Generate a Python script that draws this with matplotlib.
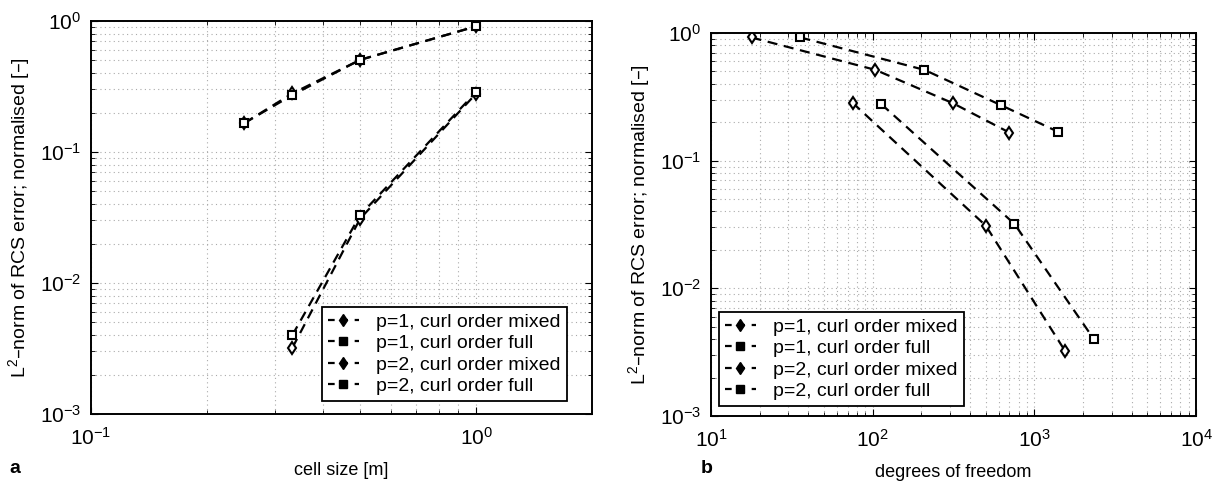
import numpy as np
import matplotlib
matplotlib.use("Agg")
import matplotlib.pyplot as plt
from matplotlib.lines import Line2D
from matplotlib.ticker import LogLocator, LogFormatterMathtext, NullFormatter

plt.rcParams["font.family"] = ["Liberation Sans", "DejaVu Sans"]
plt.rcParams["mathtext.default"] = "regular"

# --- data ---
# panel a: error vs cell size
h_p1 = [0.25, 1 / 3, 0.5, 1.0]
h_p2 = [1 / 3, 0.5, 1.0]
err_p1_mixed = [0.166, 0.280, 0.505, 0.910]
err_p1_full = [0.166, 0.272, 0.505, 0.910]
err_p2_mixed = [0.0032, 0.031, 0.279]
err_p2_full = [0.0040, 0.033, 0.287]

# panel b: error vs degrees of freedom
dof_p1_mixed = [17.8, 104, 313, 700]
dof_p1_full = [35.7, 209, 625, 1407]
dof_p2_mixed = [75, 500, 1548]
dof_p2_full = [113, 752, 2328]
errb_p1_mixed = [0.922, 0.514, 0.282, 0.166]
errb_p1_full = [0.922, 0.514, 0.271, 0.168]
errb_p2_mixed = [0.284, 0.031, 0.00323]
errb_p2_full = [0.277, 0.032, 0.00401]

labels = ["p=1, curl order mixed", "p=1, curl order full",
          "p=2, curl order mixed", "p=2, curl order full"]
markers = ["d", "s", "d", "s"]
msize = {"d": 6.5, "s": 5.5}

fig = plt.figure(figsize=(12.23, 4.83), dpi=100)
ax_a = fig.add_axes([0.0744, 0.1429, 0.4097, 0.8137])
ax_b = fig.add_axes([0.5814, 0.1387, 0.3966, 0.7930])


def draw(ax, xs, ys):
    for x, y, m in zip(xs, ys, markers):
        ax.plot(x, y, color="black", linestyle=(0, (4.5, 3)), linewidth=1.6,
                marker=m, markersize=msize[m],
                markerfacecolor="white", markeredgecolor="black",
                markeredgewidth=1.5)


def style(ax):
    ax.set_xscale("log")
    ax.set_yscale("log")
    ax.set_ylim(1e-3, 1)
    ax.yaxis.set_major_locator(LogLocator(base=10, numticks=10))
    ax.xaxis.set_major_locator(LogLocator(base=10, numticks=10))
    ax.xaxis.set_minor_locator(LogLocator(base=10, subs=np.arange(2, 10), numticks=20))
    ax.yaxis.set_minor_locator(LogLocator(base=10, subs=np.arange(2, 10), numticks=20))
    ax.xaxis.set_major_formatter(LogFormatterMathtext())
    ax.yaxis.set_major_formatter(LogFormatterMathtext())
    ax.xaxis.set_minor_formatter(NullFormatter())
    ax.yaxis.set_minor_formatter(NullFormatter())
    ax.grid(True, which="both", linestyle=(0, (1, 3)), color="#aaaaaa", linewidth=0.8)
    ax.tick_params(which="both", direction="in", top=True, right=True, labelsize=15)
    ax.tick_params(axis="x", which="major", pad=9)
    ax.tick_params(axis="y", which="major", pad=7)
    ax.tick_params(which="major", length=5)
    ax.tick_params(which="minor", length=3)
    for s in ax.spines.values():
        s.set_linewidth(1.4)
    ax.set_ylabel("L$^2$\u2013norm of RCS error; normalised [\u2013]", fontsize=14, labelpad=6)
    handles = [Line2D([], [], color="black", linestyle=(0, (3, 3)), linewidth=1.6,
                      marker=m, markersize=msize[m],
                      markerfacecolor="black", markeredgecolor="black")
               for m in markers]
    return handles


def add_legend(ax, handles, anchor):
    leg = ax.legend(handles, labels, loc="lower left", bbox_to_anchor=anchor,
                    borderaxespad=0, fancybox=False, framealpha=1, edgecolor="black",
                    fontsize=14, handlelength=1.6, handletextpad=0.9,
                    labelspacing=0.2, borderpad=0.3)
    leg.get_frame().set_linewidth(1.3)


draw(ax_a, [h_p1, h_p1, h_p2, h_p2],
     [err_p1_mixed, err_p1_full, err_p2_mixed, err_p2_full])
handles = style(ax_a)
ax_a.set_xlim(0.1, 2.0)
ax_a.set_xlabel("cell size [m]", fontsize=13, labelpad=10)
add_legend(ax_a, handles, (0.461, 0.033))

draw(ax_b, [dof_p1_mixed, dof_p1_full, dof_p2_mixed, dof_p2_full],
     [errb_p1_mixed, errb_p1_full, errb_p2_mixed, errb_p2_full])
style(ax_b)
ax_b.set_xlim(10, 1e4)
ax_b.set_xlabel("degrees of freedom", fontsize=13, labelpad=10)
add_legend(ax_b, handles, (0.0165, 0.026))

fig.text(0.008, 0.02, "a", fontsize=14, fontweight="bold")
fig.text(0.573, 0.02, "b", fontsize=14, fontweight="bold")

fig.savefig("out.png", dpi=100)
